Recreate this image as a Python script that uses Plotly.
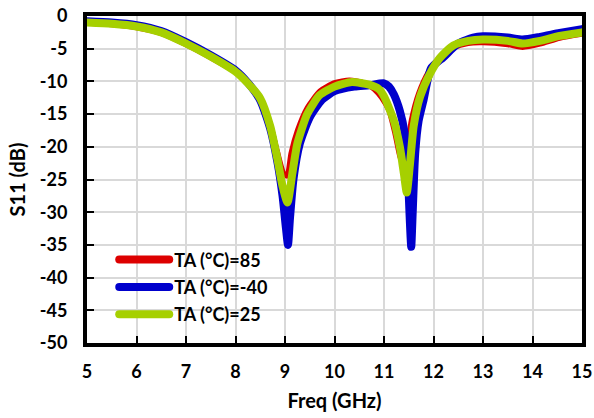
import plotly.graph_objects as go

# ---- data ----
f_85 = [5.0, 5.5, 6.0, 6.5, 7.0, 7.5, 8.0, 8.25, 8.5, 8.7, 8.85, 8.97, 9.04, 9.12, 9.25, 9.45,
        9.7, 10.0, 10.3, 10.6, 10.8, 10.95, 11.1, 11.22, 11.32, 11.38, 11.45, 11.55, 11.7, 11.9,
        12.1, 12.4, 12.7, 13.0, 13.5, 13.8, 14.15, 14.55, 15.0]
s_85 = [-1.1, -1.35, -1.8, -2.7, -4.4, -6.4, -8.6, -10.3, -12.7, -16.5, -20.8, -24.0, -24.5, -21.0, -17.5, -14.0,
        -11.5, -10.2, -9.8, -10.2, -11.2, -12.5, -14.5, -18.0, -21.5, -22.5, -21.0, -16.0, -11.8, -8.5,
        -6.5, -4.9, -4.2, -4.1, -4.4, -4.8, -4.3, -3.4, -2.8]

f_m40 = [5.0, 5.5, 6.0, 6.5, 7.0, 7.5, 8.0, 8.25, 8.5, 8.7, 8.85, 8.95, 9.02, 9.06, 9.1, 9.17,
         9.3, 9.5, 9.75, 10.0, 10.4, 10.7, 11.0, 11.1, 11.2, 11.32, 11.42, 11.48, 11.52, 11.55,
         11.58, 11.63, 11.7, 11.8, 11.95, 12.2, 12.5, 12.8, 13.0, 13.5, 13.8, 14.15, 14.55, 15.0]
s_m40 = [-0.8, -1.0, -1.4, -2.3, -4.0, -6.0, -8.3, -10.2, -12.9, -17.2, -22.5, -27.5, -32.5, -35.0, -31.0, -25.0,
         -19.5, -15.5, -12.8, -11.5, -10.8, -10.6, -10.3, -10.8, -12.0, -14.5, -18.0, -24.0, -31.0, -35.3,
         -30.0, -21.0, -16.0, -12.8, -8.0, -6.3, -4.2, -3.3, -3.1, -3.3, -3.6, -3.2, -2.6, -2.0]

f_25 = [5.0, 5.5, 6.0, 6.5, 7.0, 7.5, 8.0, 8.25, 8.5, 8.7, 8.85, 8.95, 9.05, 9.15, 9.25, 9.45,
        9.7, 10.0, 10.35, 10.7, 10.9, 11.0, 11.2, 11.32, 11.4, 11.46, 11.52, 11.6, 11.73, 11.93,
        12.13, 12.4, 12.7, 13.0, 13.5, 13.8, 14.15, 14.55, 15.0]
s_25 = [-1.0, -1.2, -1.6, -2.5, -4.2, -6.2, -8.5, -10.3, -12.6, -16.8, -22.0, -26.0, -28.5, -24.0, -19.5, -15.0,
        -12.1, -10.8, -10.1, -10.5, -11.2, -12.3, -16.0, -20.0, -24.0, -27.0, -23.0, -16.8, -12.3, -8.8,
        -6.4, -4.5, -3.8, -3.6, -3.8, -4.2, -3.8, -3.05, -2.5]

names = ["TA (°C)=85", "TA (°C)=-40", "TA (°C)=25"]
colors = ["#dd0000", "#0000cc", "#a6d000"]
widths = [5, 8, 8]
legend_width = 8

x_ticks = list(range(5, 16))
y_ticks = list(range(0, -55, -5))
y_ticktext = [str(v) for v in y_ticks]  # plain hyphen minus as in the reference

FONT = "Lato, Carlito, Calibri, sans-serif"

fig = go.Figure()
for fx, sy, nm, c, w in zip([f_85, f_m40, f_25], [s_85, s_m40, s_25], names, colors, widths):
    fig.add_trace(go.Scatter(x=fx, y=sy, mode="lines", name=nm, legendgroup=nm, showlegend=False,
                             line=dict(color=c, width=w, shape="spline", smoothing=0.6)))
# legend entries (uniform thick line samples)
for nm, c in zip(names, colors):
    fig.add_trace(go.Scatter(x=[None], y=[None], mode="lines", name=nm, legendgroup=nm,
                             line=dict(color=c, width=legend_width)))

axis_common = dict(showline=True, linecolor="black", linewidth=4, mirror=True,
                   showgrid=True, gridcolor="#d9d9d9", gridwidth=2,
                   ticks="inside", tickcolor="black", tickwidth=2, ticklen=7,
                   zeroline=False, automargin=False,
                   tickfont=dict(family=FONT, size=18, color="black", weight="bold"))

fig.update_xaxes(range=[5, 15], tickvals=x_ticks, ticklabelstandoff=9,
                 title=dict(text="Freq (GHz)", font=dict(family=FONT, size=20, color="black", weight="bold"),
                            standoff=14),
                 **axis_common)
fig.update_yaxes(range=[-50, 0], tickvals=y_ticks, ticktext=y_ticktext, ticklabelstandoff=12,
                 title=dict(text="S11 (dB)", font=dict(family=FONT, size=20, color="black", weight="bold"),
                            standoff=10),
                 **axis_common)

fig.update_layout(
    template="none",
    width=594, height=418,
    margin=dict(l=87, r=12, t=16, b=75, autoexpand=False),
    paper_bgcolor="white", plot_bgcolor="white",
    showlegend=True,
    legend=dict(x=0.055, y=0.311, xanchor="left", yanchor="top",
                bgcolor="rgba(0,0,0,0)", itemwidth=50, tracegroupgap=1,
                font=dict(family=FONT, size=18, color="black", weight="bold")),
)

post = """
document.querySelectorAll('.scatterlayer path.js-line, .legend path.js-line').forEach(function(p){
  p.style.strokeLinecap='round'; p.style.strokeLinejoin='round';
});
"""
fig.write_html("out.html", post_script=post)
